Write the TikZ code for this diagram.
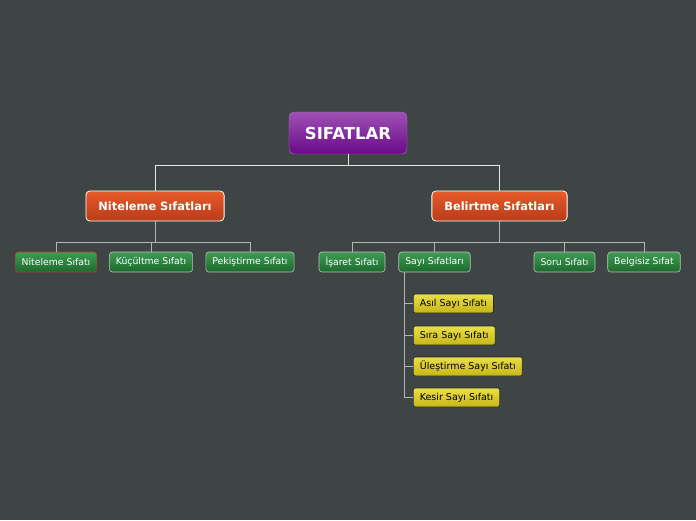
\documentclass[tikz,border=0pt]{standalone}
\usepackage{fontspec}
\setmainfont{DejaVu Sans}
\definecolor{bg}{HTML}{3F4444}
\definecolor{purpT}{HTML}{9E50B4}
\definecolor{purpB}{HTML}{6A0A8A}
\definecolor{orT}{HTML}{E85A2A}
\definecolor{orB}{HTML}{B83C18}
\definecolor{grT}{HTML}{3E9C54}
\definecolor{grB}{HTML}{1C6A2C}
\definecolor{yeT}{HTML}{EADF48}
\definecolor{yeB}{HTML}{C6B516}
\definecolor{lineW}{HTML}{E6E6E6}
\definecolor{lineG}{HTML}{B4B4B4}
\definecolor{redB}{HTML}{C03434}

\begin{document}
\begin{tikzpicture}[x=1pt, y=-1pt,
	root/.style={rounded corners=5pt, top color=purpT, bottom color=purpB, draw=purpT!80!white,
		text=white, font=\fontsize{16.5}{18}\selectfont\bfseries, minimum width=118pt, minimum height=42pt},
	main/.style={rounded corners=4pt, top color=orT, bottom color=orB, draw=white, line width=0.8pt,
		text=white, font=\fontsize{11.4}{13}\selectfont\bfseries, inner xsep=12.5pt, minimum height=30pt},
	leaf/.style={rounded corners=3pt, top color=grT, bottom color=grB, draw=black!25!white, line width=0.6pt,
		text=white, font=\fontsize{9.3}{11}\selectfont, inner xsep=6.5pt, minimum height=20pt},
	sub/.style={rounded corners=2pt, top color=yeT, bottom color=yeB, draw=black!85, line width=0.7pt,
		text=black, font=\fontsize{9.5}{11}\selectfont, inner xsep=6.5pt, minimum height=19pt},
	link/.style={draw=lineW, line width=0.9pt},
	twig/.style={draw=lineG, line width=0.8pt}]
	\fill[bg] (0,0) rectangle (696,520);
	\useasboundingbox (0,0) rectangle (696,520);

	% top
	\node[root] (sifat) at (348,133) {SIFATLAR};
	\node[main] (nitel) at (155,206) {Niteleme Sıfatları};
	\node[main] (belirt) at (499.5,206) {Belirtme Sıfatları};
	\draw[link] (sifat.south) -- ++(0,11) -| (nitel.north);
	\draw[link] (sifat.south) -- ++(0,11) -| (belirt.north);

	% left branch
	\node[leaf, draw=redB] (nsif) at (56,262) {Niteleme Sıfatı};
	\node[leaf] (kucuk) at (151,262) {Küçültme Sıfatı};
	\node[leaf] (pekis) at (250,262) {Pekiştirme Sıfatı};
	\foreach \n in {nsif,kucuk,pekis}
		\draw[twig] (nitel.south) -- ++(0,21) -| (\n.north);

	% right branch
	\node[leaf] (isaret) at (352,262) {İşaret Sıfatı};
	\node[leaf] (sayi) at (434.5,262) {Sayı Sıfatları};
	\node[leaf] (soru) at (564.5,262) {Soru Sıfatı};
	\node[leaf] (belgi) at (644,262) {Belgisiz Sıfat};
	\foreach \n in {isaret,sayi,soru,belgi}
		\draw[twig] (belirt.south) -- ++(0,21) -| (\n.north);

	% sayi sifatlari
	\node[sub, anchor=west] (asil) at (413,303.5) {Asıl Sayı Sıfatı};
	\node[sub, anchor=west] (sira) at (413,335.5) {Sıra Sayı Sıfatı};
	\node[sub, anchor=west] (ules) at (413,366.5) {Üleştirme Sayı Sıfatı};
	\node[sub, anchor=west] (kesir) at (413,397.5) {Kesir Sayı Sıfatı};
	\foreach \n in {asil,sira,ules,kesir}
		\draw[twig] ([xshift=6pt]sayi.south west) |- (\n.west);
\end{tikzpicture}
\end{document}
